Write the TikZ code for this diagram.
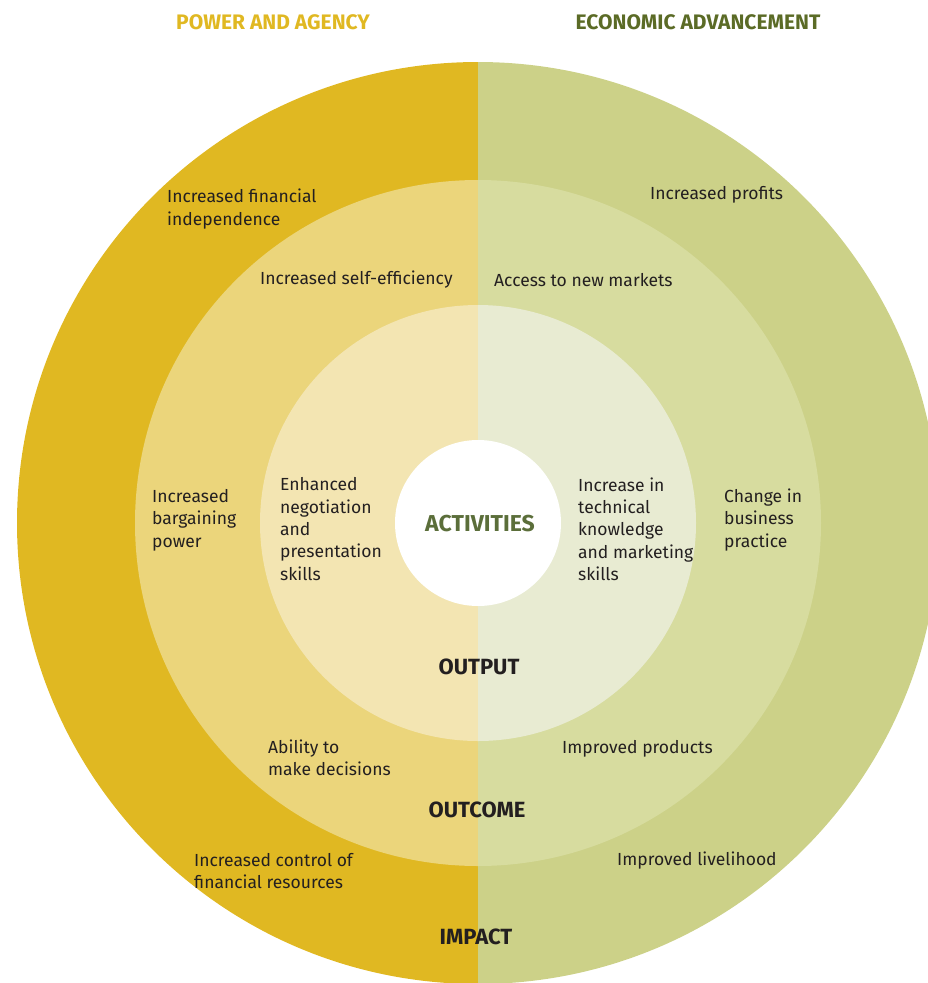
\documentclass[tikz,border=0pt]{standalone}
\usepackage{fontspec}
\setmainfont{Fira Sans}
\definecolor{outL}{HTML}{E0B822}
\definecolor{outR}{HTML}{CCD188}
\definecolor{midL}{HTML}{EBD57B}
\definecolor{midR}{HTML}{D7DC9F}
\definecolor{innL}{HTML}{F3E5B2}
\definecolor{innR}{HTML}{E8EBD2}
\definecolor{titleL}{HTML}{E0B822}
\definecolor{titleR}{HTML}{5B6B26}
\definecolor{actgreen}{HTML}{5B6E3A}
\definecolor{txt}{HTML}{231F20}
\begin{document}
\begin{tikzpicture}[x=1pt,y=-1pt,
  body/.style={anchor=west,align=left,text=txt,inner sep=0pt,
    font=\fontsize{17.5}{22.3}\selectfont},
  head/.style={text=txt,inner sep=0pt,font=\fontsize{22}{24}\selectfont\bfseries},
  title/.style={inner sep=0pt,font=\fontsize{21}{24}\selectfont\bfseries}]
\useasboundingbox (0,0) rectangle (928,983);
\coordinate (c) at (478,523);
\begin{scope}
  \clip (0,0) rectangle (478,983);
  \fill[outL] (c) circle (461pt);
  \fill[midL] (c) circle (343pt);
  \fill[innL] (c) circle (218pt);
\end{scope}
\begin{scope}
  \clip (478,0) rectangle (928,983);
  \fill[outR] (c) circle (461pt);
  \fill[midR] (c) circle (343pt);
  \fill[innR] (c) circle (218pt);
\end{scope}
\fill[white] (c) circle (83pt);

\node[title,text=titleL] (tpa) at (273,22) {POWER AND AGENCY};
\node[title,text=titleR] (tea) at (698,22) {ECONOMIC ADVANCEMENT};

\node[body] (fin) at (167,209) {Increased financial\\independence};
\node[body] (prof) at (650,195) {Increased profits};
\node[body] (self) at (260,280) {Increased self-efficiency};
\node[body] (mkt) at (494,280) {Access to new markets};
\node[body] (barg) at (152,520) {Increased\\bargaining\\power};
\node[body] (neg) at (280,529) {Enhanced\\negotiation\\and\\presentation\\skills};
\node[text=actgreen,inner sep=0pt,font=\fontsize{23}{26}\selectfont\bfseries] (act) at (480,524) {ACTIVITIES};
\node[body] (tech) at (578,529) {Increase in\\technical\\knowledge\\and marketing\\skills};
\node[body] (bus) at (724,520) {Change in\\business\\practice};
\node[head] (outp) at (479,667) {OUTPUT};
\node[body] (dec) at (268,758) {Ability to\\make decisions};
\node[body] (prod) at (562,749) {Improved products};
\node[head] (outc) at (477,810) {OUTCOME};
\node[body] (ctrl) at (194,871) {Increased control of\\financial resources};
\node[body] (live) at (617,861) {Improved livelihood};
\node[head] (imp) at (476,937) {IMPACT};
\end{tikzpicture}
\end{document}
